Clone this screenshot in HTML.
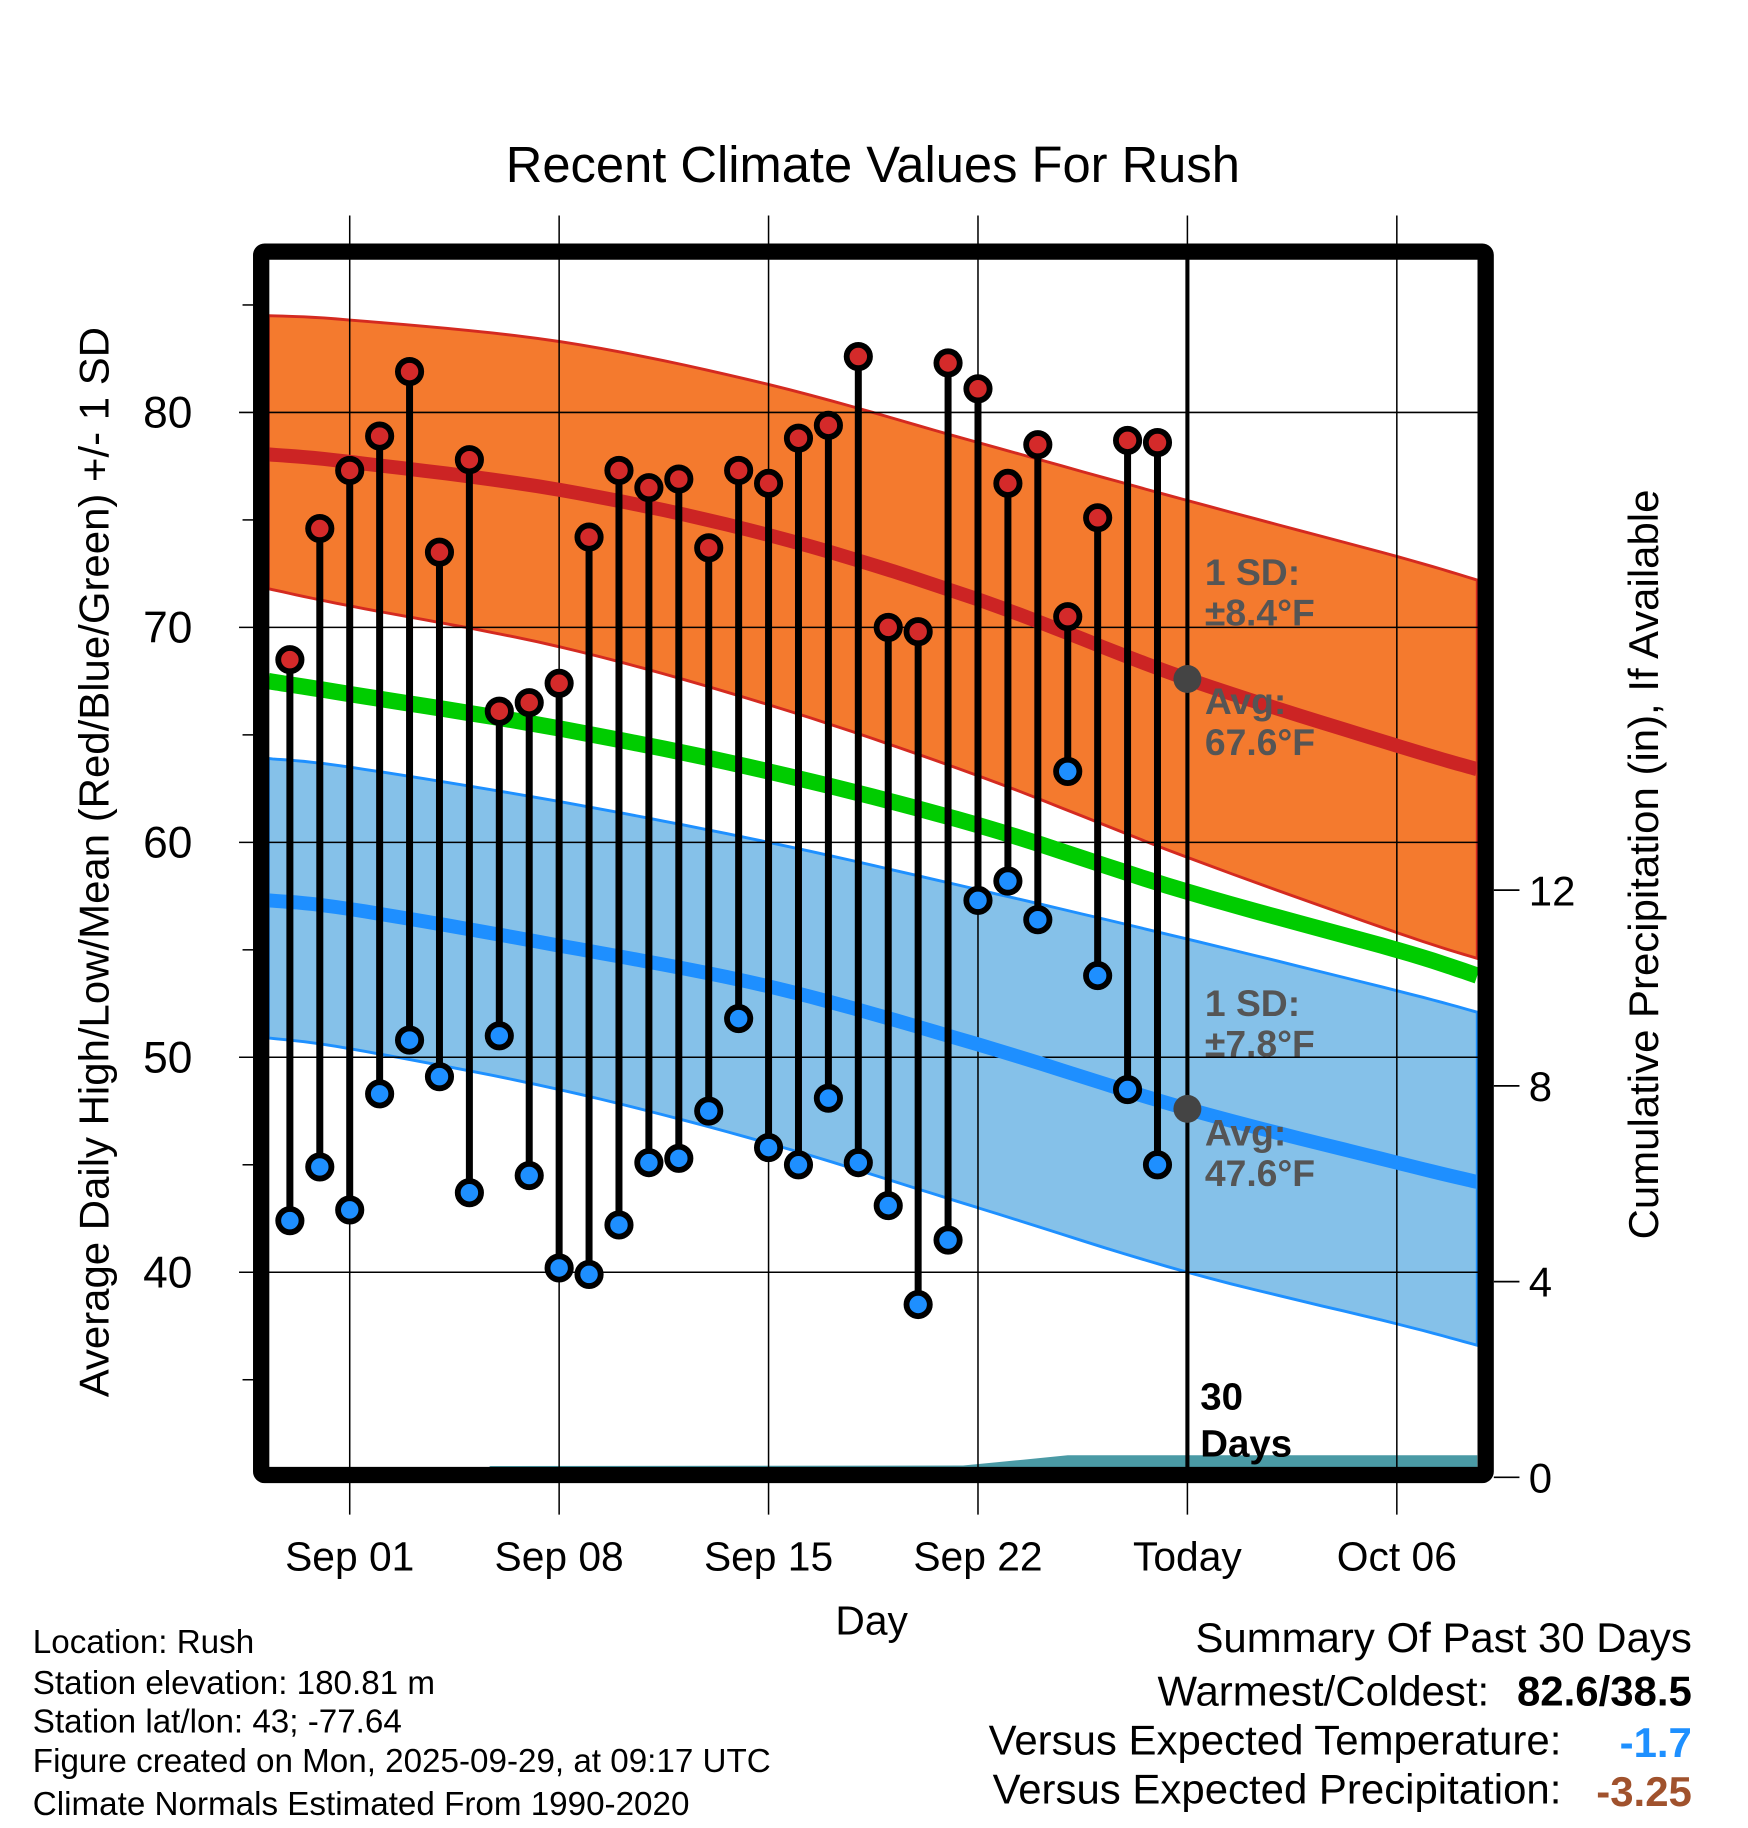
<!DOCTYPE html>
<html><head><meta charset="utf-8"><style>
html,body{margin:0;padding:0;background:#fff}
svg{display:block;font-family:"Liberation Sans",sans-serif}
</style></head><body>
<svg id="chart" width="1748" height="1828" viewBox="0 0 1500 1569" xmlns="http://www.w3.org/2000/svg">
</svg>
<script>
// ---- data ----
const normDays = [-2.72, 0, 7, 14, 21, 28, 35, 37.69];
const avgHigh = [78.05, 77.7, 76.4, 74.3, 71.3, 67.6, 64.5, 63.4];
const highBandTop = [84.5, 84.3, 83.3, 81.3, 78.6, 75.9, 73.3, 72.2];
const highBandBot = [71.8, 71.0, 69.1, 66.4, 63.1, 59.3, 55.8, 54.6];
const meanLine = [67.5, 66.9, 65.3, 63.3, 60.8, 57.7, 55.0, 53.8];
const avgLow = [57.3, 56.9, 55.2, 53.3, 50.6, 47.6, 45.1, 44.2];
const lowBandTop = [63.9, 63.5, 61.9, 60.0, 57.8, 55.5, 53.1, 52.1];
const lowBandBot = [50.9, 50.4, 48.5, 46.0, 43.0, 40.0, 37.6, 36.6];
const obsDays = [-2,-1,0,1,2,3,4,5,6,7,8,9,10,11,12,13,14,15,16,17,18,19,20,21,22,23,24,25,26,27];
const highs = [68.5,74.6,77.3,78.9,81.9,73.5,77.8,66.1,66.5,67.4,74.2,77.3,76.5,76.9,73.7,77.3,76.7,78.8,79.4,82.6,70.0,69.8,82.3,81.1,76.7,78.5,70.5,75.1,78.7,78.6];
const lows = [42.4,44.9,42.9,48.3,50.8,49.1,43.7,51.0,44.5,40.2,39.9,42.2,45.1,45.3,47.5,51.8,45.8,45.0,48.1,45.1,43.1,38.5,41.5,57.3,58.2,56.4,63.3,53.8,48.5,45.0];
const precipDays = [-2.72, 4.6, 4.7, 20.5, 21.5, 22.5, 24.0, 37.69];
const precipVals = [0.19, 0.19, 0.23, 0.24, 0.3, 0.36, 0.45, 0.45];
const xTickDays = [0, 7, 14, 21, 28, 35];
const xTickLabels = ["Sep 01","Sep 08","Sep 15","Sep 22","Today","Oct 06"];
const yTicks = [40, 50, 60, 70, 80];
const yMinor = [35, 45, 55, 65, 75, 85];
const pTicks = [0, 4, 8, 12];

// ---- scales ----
const L=230,R=1268,T=222,B=1260;
const x = d => 300 + d*(1019-300)/28;
const y = v => 354 + (80-v)*18.45;
const yp = p => 1268 - p*42;

const svg=document.getElementById('chart');
const NS='http://www.w3.org/2000/svg';
function mk(tag, attrs, parent){const e=document.createElementNS(NS,tag);for(const k in attrs)e.setAttribute(k,attrs[k]);(parent||svg).appendChild(e);return e;}
function pts(days, vals, f){return days.map((d,i)=>[x(d), f(vals[i])]);}
function smooth(days, vals){
  const p=pts(days,vals,y), out=[];
  for(let i=0;i<p.length-1;i++){
    const p0=p[Math.max(0,i-1)],p1=p[i],p2=p[i+1],p3=p[Math.min(p.length-1,i+2)];
    for(let t=0;t<1;t+=0.1){
      const t2=t*t,t3=t2*t;
      const f=(a,b,c,d)=>0.5*((2*b)+(-a+c)*t+(2*a-5*b+4*c-d)*t2+(-a+3*b-3*c+d)*t3);
      out.push([f(p0[0],p1[0],p2[0],p3[0]),f(p0[1],p1[1],p2[1],p3[1])]);
    }
  }
  out.push(p[p.length-1]);
  return out;
}
const s=a=>a.map(q=>q[0].toFixed(1)+','+q[1].toFixed(1));

let e;
e=mk('polygon',{points:s(smooth(normDays,highBandTop)).concat(s(smooth(normDays,highBandBot)).reverse()).join(' '),fill:'#f47a2e',stroke:'#d42a20','stroke-width':2.5});

e=mk('polygon',{points:s(smooth(normDays,lowBandTop)).concat(s(smooth(normDays,lowBandBot)).reverse()).join(' '),fill:'#85c1e9',stroke:'#1e90ff','stroke-width':2.5});

e=mk('polygon',{points:s(pts(precipDays,precipVals,yp)).concat([x(37.69)+','+B, x(-2.72)+','+B]).join(' '),fill:'#4a9aa5'});

xTickDays.forEach(d=>{e=mk('line',{x1:x(d),x2:x(d),y1:185,y2:1300,stroke:'#000','stroke-width':1.3});
});
yTicks.forEach(v=>{e=mk('line',{x1:205,x2:R,y1:y(v),y2:y(v),stroke:'#000','stroke-width':1.3});
});
yMinor.forEach(v=>{e=mk('line',{x1:208,x2:218,y1:y(v),y2:y(v),stroke:'#000','stroke-width':1.3});
});
pTicks.forEach(p=>{e=mk('line',{x1:1282,x2:1304,y1:yp(p),y2:yp(p),stroke:'#000','stroke-width':1.5});
});
function line(vals,color,w,name){e=mk('polyline',{points:s(smooth(normDays,vals)).join(' '),fill:'none',stroke:color,'stroke-width':w});
}
line(avgHigh,'#cc2424',12,'avg-high-line');
line(meanLine,'#00cc00',14,'mean-line');
line(avgLow,'#1e8fff',12,'avg-low-line');
e=mk('line',{x1:1019,x2:1019,y1:T,y2:B,stroke:'#000','stroke-width':3.5});

obsDays.forEach((d,i)=>{e=mk('line',{x1:x(d),x2:x(d),y1:y(highs[i]),y2:y(lows[i]),stroke:'#000','stroke-width':6});
});
obsDays.forEach((d,i)=>{
e=mk('circle',{cx:x(d),cy:y(highs[i]),r:10,fill:'#d42a2a',stroke:'#000','stroke-width':5});

e=mk('circle',{cx:x(d),cy:y(lows[i]),r:10,fill:'#1e8fff',stroke:'#000','stroke-width':5});
});
e=mk('circle',{cx:1019,cy:y(avgHigh[5]),r:12,fill:'#444'});

e=mk('circle',{cx:1019,cy:y(avgLow[5]),r:12,fill:'#444'});

e=mk('rect',{x:224,y:216,width:1051,height:1050,fill:'none',stroke:'#000','stroke-width':14,rx:3});

function txt(str,xx,yy,attrs,name){e=mk('text',Object.assign({x:xx,y:yy,'font-size':38,fill:'#000'},attrs||{}));e.textContent=str;
return e;}
yTicks.forEach(v=>txt(String(v),165,y(v)+13,{'text-anchor':'end'},'y-tick-label'));
pTicks.forEach(p=>txt(String(p),1312,yp(p)+13,{'font-size':36},'precip-tick-label'));
xTickDays.forEach((d,i)=>txt(xTickLabels[i],x(d),1348,{'text-anchor':'middle','font-size':35},'x-tick-label'));
</script>
<svg style="position:absolute;left:0;top:0" width="1748" height="1828" viewBox="0 0 1500 1569" xmlns="http://www.w3.org/2000/svg" font-family="Liberation Sans, sans-serif">
<text x="749" y="156" font-size="43.5" text-anchor="middle">Recent Climate Values For Rush</text>
<text transform="translate(93,740) rotate(-90)" font-size="36" text-anchor="middle">Average Daily High/Low/Mean (Red/Blue/Green) +/- 1 SD</text>
<text transform="translate(1423,742) rotate(-90)" font-size="36" text-anchor="middle">Cumulative Precipitation (in), If Available</text>
<text x="748" y="1403" font-size="35" text-anchor="middle">Day</text>
<g font-size="32" font-weight="bold" fill="#555">
<text x="1034" y="502">1 SD:</text><text x="1034" y="537">±8.4°F</text>
<text x="1034" y="613">Avg:</text><text x="1034" y="648">67.6°F</text></g>
<g font-size="32" font-weight="bold" fill="#555">
<text x="1034" y="872">1 SD:</text><text x="1034" y="907">±7.8°F</text>
<text x="1034" y="983">Avg:</text><text x="1034" y="1018">47.6°F</text></g>
<g font-size="33" font-weight="bold">
<text x="1030" y="1210">30</text><text x="1030" y="1250">Days</text></g>
<g font-size="28.5">
<text x="28" y="1419">Location: Rush</text>
<text x="28" y="1454">Station elevation: 180.81 m</text>
<text x="28" y="1487">Station lat/lon: 43; -77.64</text>
<text x="28" y="1521">Figure created on Mon, 2025-09-29, at 09:17 UTC</text>
<text x="28" y="1558">Climate Normals Estimated From 1990-2020</text></g>
<g font-size="36" text-anchor="end">
<text x="1452" y="1418">Summary Of Past 30 Days</text>
<text x="1278" y="1464">Warmest/Coldest:</text>
<text x="1452" y="1464" font-weight="bold">82.6/38.5</text>
<text x="1340" y="1506">Versus Expected Temperature:</text>
<text x="1452" y="1508" font-weight="bold" fill="#1e90ff">-1.7</text>
<text x="1340" y="1548">Versus Expected Precipitation:</text>
<text x="1452" y="1550" font-weight="bold" fill="#a0522d">-3.25</text></g>
</svg>
</body></html>
